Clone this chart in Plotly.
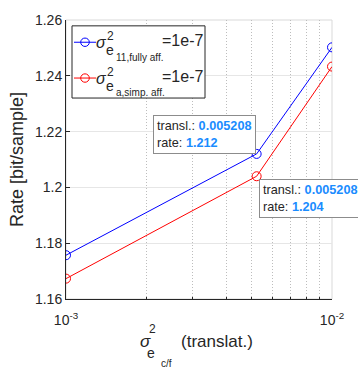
import numpy as np
import plotly.graph_objects as go

# Rate vs. translational error variance
sigma_translat = [0.001, 0.005208, 0.01]
rate_fully_aff = [1.1757, 1.212, 1.2502]
rate_simp_aff = [1.1673, 1.204, 1.2433]

x_tickvals = [0.001, 0.01]
x_ticktext = ["10<sup>-3</sup>", "10<sup>-2</sup>"]
x_minorvals = [0.002, 0.003, 0.004, 0.005, 0.006, 0.007, 0.008, 0.009]
y_tickvals = [1.16, 1.18, 1.20, 1.22, 1.24, 1.26]
y_ticktext = ["1.16", "1.18", "1.2", "1.22", "1.24", "1.26"]

legend_subs = ["11,fully aff.", "a,simp. aff."]
legend_values = ["=1e-7", "=1e-7"]
colors = ["#0000ff", "#ff0000"]

FONT = "Liberation Sans, Arial, Helvetica, sans-serif"
TEXT = "#262626"
TIP_BLUE = "#1a8cff"

W, H = 358, 371
ML, MR, MT, MB = 66, 26, 13, 72
PW, PH = W - ML - MR, H - MT - MB


def px(x):
    return (x - ML) / PW


def py(y):
    return (H - MB - y) / PH


fig = go.Figure()
for yv, c, s in zip([rate_fully_aff, rate_simp_aff], colors, legend_subs):
    fig.add_trace(go.Scatter(
        x=sigma_translat, y=yv, mode="lines+markers", name=s, showlegend=False,
        line=dict(color=c, width=1),
        marker=dict(symbol="circle-open", size=9, color=c, line=dict(width=1)),
    ))

# light box around the axes
fig.add_shape(type="rect", xref="paper", yref="paper", x0=0, y0=0, x1=1, y1=1,
              line=dict(color="#d9d9d9", width=1), layer="below")


def txt(x, y, s, size, italic=False, xanchor="center"):
    if italic:
        s = f"<i>{s}</i>"
    fig.add_annotation(x=px(x), y=py(y), xref="paper", yref="paper", text=s,
                       showarrow=False, xanchor=xanchor, yanchor="middle",
                       font=dict(family=FONT, size=size, color=TEXT))


# legend box
fig.add_shape(type="rect", xref="paper", yref="paper",
              x0=px(72), x1=px(205), y0=py(93), y1=py(19),
              line=dict(color=TEXT, width=1), fillcolor="white", layer="above")
for i, (c, sub, val) in enumerate(zip(colors, legend_subs, legend_values)):
    dy = i * 36.7
    yc = 35.8 + dy
    fig.add_shape(type="line", xref="paper", yref="paper",
                  x0=px(74), x1=px(96), y0=py(yc), y1=py(yc),
                  line=dict(color=c, width=1), layer="above")
    fig.add_shape(type="circle", xref="paper", yref="paper",
                  x0=px(85 - 4.3), x1=px(85 + 4.3), y0=py(yc + 4.3), y1=py(yc - 4.3),
                  line=dict(color=c, width=1), fillcolor="rgba(0,0,0,0)", layer="above")
    txt(101.7, 36 + dy, "σ", 16, italic=True)
    txt(110, 29.5 + dy, "2", 12)
    txt(109.5, 44 + dy, "e", 14)
    txt(114, 51 + dy, sub, 10, xanchor="left")
    txt(182.5, 34 + dy, val, 16)

# x-axis label
txt(145, 343, "σ", 17, italic=True)
txt(152.5, 329.5, "2", 12)
txt(150.5, 354.5, "e", 14)
txt(166.5, 365, "c/f", 10)
txt(216.5, 343, "(translat.)", 17)


def tip(xv, yv, xanchor, yanchor, xshift, yshift):
    s = (f"transl.: <b><span style='color:{TIP_BLUE}'>{xv}</span></b><br>"
         f"rate: <b><span style='color:{TIP_BLUE}'>{yv}</span></b>")
    fig.add_annotation(
        x=np.log10(xv), y=yv, xref="x", yref="y", text=s, showarrow=False,
        xanchor=xanchor, yanchor=yanchor, align="left", xshift=xshift, yshift=yshift,
        font=dict(family=FONT, size=12.7, color=TEXT),
        bgcolor="white", bordercolor="#8c8c8c", borderwidth=1, borderpad=3,
    )


tip(sigma_translat[1], rate_fully_aff[1], "right", "bottom", -1, 0)
tip(sigma_translat[1], rate_simp_aff[1], "left", "top", 2, -3)

fig.update_layout(
    width=W, height=H,
    margin=dict(l=ML, r=MR, t=MT, b=MB),
    paper_bgcolor="white", plot_bgcolor="white",
    font=dict(family=FONT, color=TEXT),
    showlegend=False,
    xaxis=dict(
        type="log", range=[-3, -2],
        tickvals=x_tickvals, ticktext=x_ticktext,
        tickfont=dict(size=14), ticks="inside", ticklen=4, tickcolor=TEXT,
        ticklabelstandoff=8,
        showline=True, linecolor=TEXT, linewidth=1,
        showgrid=True, gridcolor="#e6e6e6",
        minor=dict(tickvals=x_minorvals, showgrid=True, griddash="1px,2px",
                   gridcolor="#bdbdbd", gridwidth=1,
                   ticks="inside", ticklen=2, tickcolor=TEXT),
        zeroline=False,
    ),
    yaxis=dict(
        range=[1.16, 1.26],
        tickvals=y_tickvals, ticktext=y_ticktext,
        tickfont=dict(size=14), ticks="inside", ticklen=4, tickcolor=TEXT,
        showline=True, linecolor=TEXT, linewidth=1,
        showgrid=True, gridcolor="#e6e6e6",
        zeroline=False,
        title=dict(text="Rate [bit/sample]", font=dict(size=18), standoff=6),
    ),
)

fig.write_html("out.html")
